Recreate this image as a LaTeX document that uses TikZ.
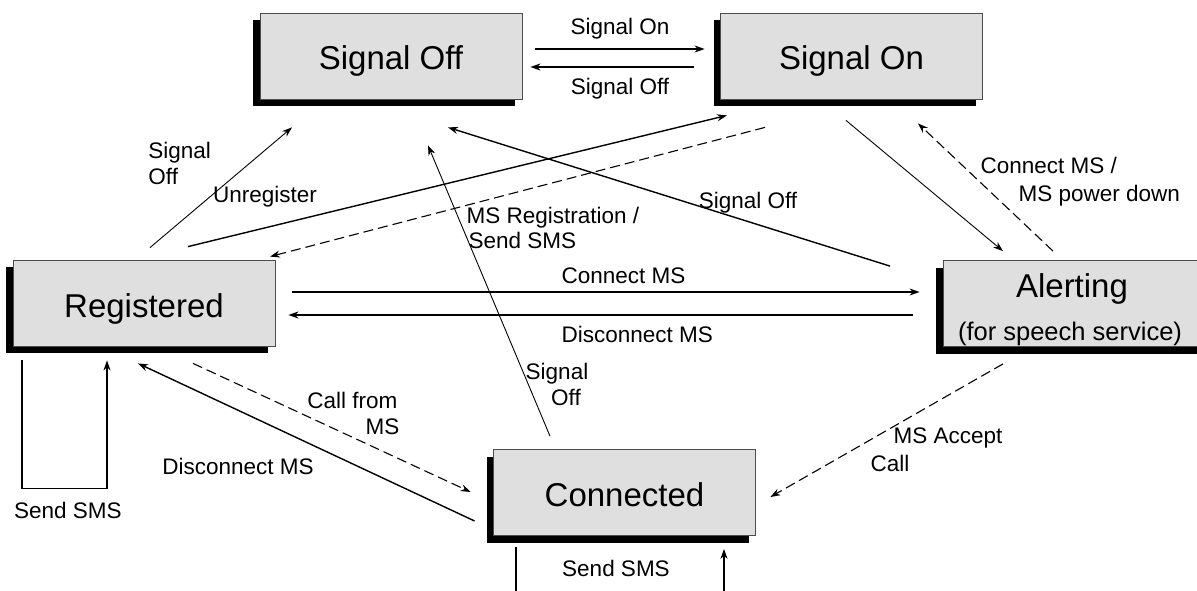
\documentclass[tikz,border=0pt]{standalone}
\usepackage{fontspec}
\setmainfont{Liberation Sans}
\usetikzlibrary{arrows.meta,shadows}
\begin{document}
\begin{tikzpicture}[x=1pt,y=-1pt,
  boxfont/.style={font=\fontsize{33}{38}\selectfont, inner sep=0pt},
  subfont/.style={font=\fontsize{25.5}{30}\selectfont, inner sep=0pt},
  state/.style={draw=gray!60!black, line width=0.8pt, fill=gray!25,
    minimum width=262pt, minimum height=86pt, inner sep=0pt,
    text height=28pt, text depth=0pt, font=\fontsize{33}{38}\selectfont,
    drop shadow={shadow xshift=-7pt, shadow yshift=-7pt, fill=black, opacity=1, draw=none}},
  tip/.style={-{Stealth[length=10pt,width=7pt]}},
  tr/.style={tip, line width=1.4pt},
  thintr/.style={tip, line width=0.9pt},
  dtr/.style={tip, line width=1.1pt, dash pattern=on 10pt off 5pt},
  lbl/.style={font=\fontsize{22.5}{26}\selectfont, inner sep=0pt}
]
\useasboundingbox (0,0) rectangle (1197,591);

% states
\node[state] (sigoff) at (391,56) {Signal Off};
\node[state] (sigon) at (851.5,56) {Signal On};
\node[state] (reg) at (144,303) {Registered};
\node[state] (alert) at (1074,303.5) {};
\node[boxfont, anchor=base] (alerttxt) at (1072,297) {Alerting};
\node[subfont, anchor=base] (alertsub) at (1070,340) {(for speech service)};
\node[state] (conn) at (624.5,492.5) {Connected};

% Signal Off <-> Signal On
\draw[tr] ([shift={(13,-7)}]sigoff.east) -- ([shift={(-15.5,-7)}]sigon.west)
  node[lbl, anchor=base] at (620,35) {Signal On};
\draw[tr] ([shift={(-26.5,11)}]sigon.west) -- ([shift={(8,11)}]sigoff.east)
  node[lbl, anchor=base] at (620,95) {Signal Off};

% Registered -> Signal Off
\draw[thintr] ([shift={(6,-12)}]reg.north) -- ([shift={(-99,28)}]sigoff.south)
  node[lbl, anchor=base west] at (148,158) {Signal}
  node[lbl, anchor=base west] at (148,185) {Off};

% Registered -> Signal On (Unregister)
\draw[tr] ([shift={(44,-13)}]reg.north) -- ([shift={(-124.5,16)}]sigon.south)
  node[lbl, anchor=base] at (265,202) {Unregister};

% Signal On -> Registered (dashed)
\draw[dtr] ([shift={(-86.5,28)}]sigon.south) -- ([shift={(126,-3)}]reg.north)
  node[lbl, anchor=base west] at (466,223) {MS Registration /}
  node[lbl, anchor=base west] at (468,248) {Send SMS};

% Alerting -> Signal Off
\draw[tr] ([shift={(-184,6)}]alert.north) -- ([shift={(57,28)}]sigoff.south)
  node[lbl, anchor=base] at (748,208) {Signal Off};

% Connected -> Signal Off
\draw[thintr] ([shift={(-74.5,-13)}]conn.north) -- ([shift={(37,46)}]sigoff.south)
  node[lbl, anchor=base] at (557,379) {Signal}
  node[lbl, anchor=base] at (566,405) {Off};

% Signal On -> Alerting
\draw[thintr] ([shift={(-5.5,21)}]sigon.south) -- ([shift={(-71,-9)}]alert.north);

% Alerting -> Signal On (dashed)
\draw[dtr] ([shift={(-21,-9)}]alert.north) -- ([shift={(66.5,24)}]sigon.south)
  node[lbl, anchor=base west] at (980,174) {Connect MS /}
  node[lbl, anchor=base west] at (1018,201) {MS power down};

% Registered <-> Alerting
\draw[tr] ([shift={(17,-11)}]reg.east) -- ([shift={(-23,-11.5)}]alert.west)
  node[lbl, anchor=base west] at (561,283) {Connect MS};
\draw[tr] ([shift={(-30,11.5)}]alert.west) -- ([shift={(13,12)}]reg.east)
  node[lbl, anchor=base west] at (561,342) {Disconnect MS};

% Registered self loop
\draw[tr] ([shift={(-122,14)}]reg.south) -- ++(0,128) -- ++(85,0) -- ([shift={(-37,14)}]reg.south)
  node[lbl, anchor=base] at (68,518) {Send SMS};

% Connected -> Registered
\draw[tr] ([shift={(-18.5,28.5)}]conn.west) -- ([shift={(-6,17)}]reg.south)
  node[lbl, anchor=base] at (238,474) {Disconnect MS};

% Registered -> Connected (dashed)
\draw[dtr] ([shift={(49,17)}]reg.south) -- ([shift={(-22.5,-0.5)}]conn.west)
  node[lbl, anchor=base east] at (398,408) {Call from}
  node[lbl, anchor=base east] at (400,434) {MS};

% Alerting -> Connected (dashed)
\draw[dtr] ([shift={(-71,17)}]alert.south) -- ([shift={(14.5,4.5)}]conn.east)
  node[lbl, anchor=base west] at (893,443) {MS Accept}
  node[lbl, anchor=base west] at (870,471) {Call};

% Connected self loop
\draw[tr] ([shift={(-108.5,11)}]conn.south) -- ++(0,70) -- ++(208,0) -- ([shift={(99.5,13)}]conn.south)
  node[lbl, anchor=base] at (616,576) {Send SMS};
\end{tikzpicture}
\end{document}
